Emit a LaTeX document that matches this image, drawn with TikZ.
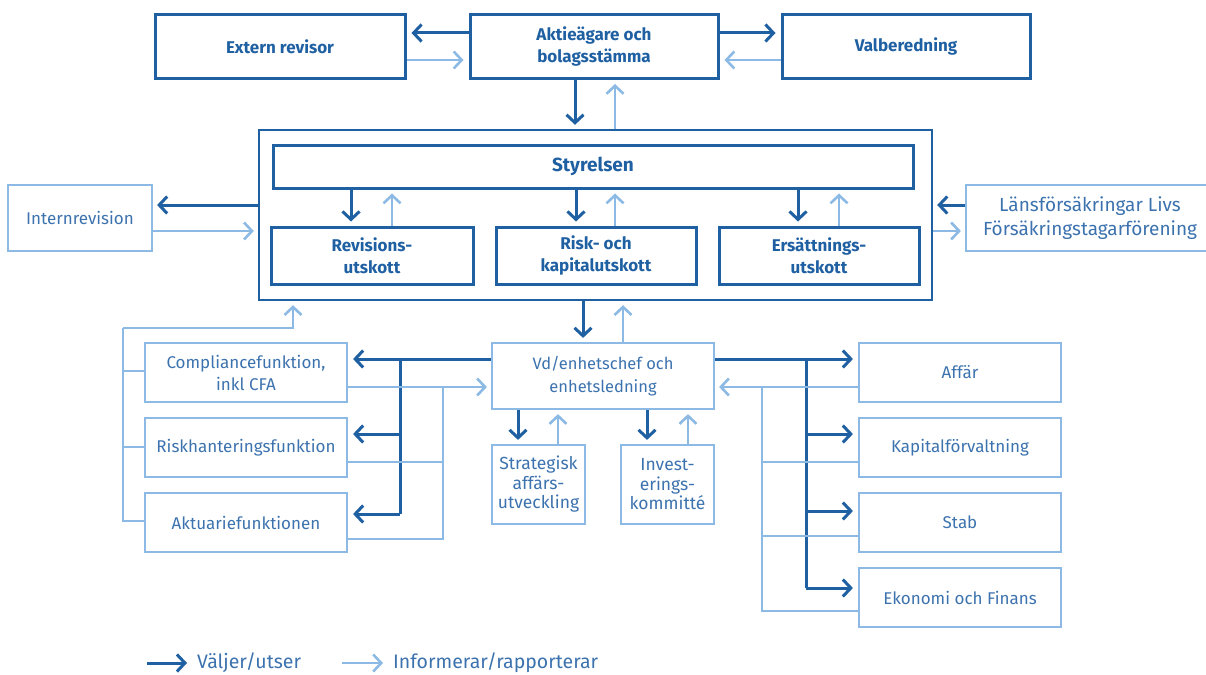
\documentclass[tikz,border=0pt]{standalone}
\usepackage{fontspec}
\setmainfont{Fira Sans}
\usetikzlibrary{arrows.meta}
\definecolor{dk}{RGB}{31,96,162}
\definecolor{lt}{RGB}{140,186,228}
\definecolor{tx}{RGB}{60,114,174}
\tikzset{
  dkbox/.style={draw=dk, line width=3pt, inner sep=0pt, align=center, text=dk, font=\fontsize{17}{22}\selectfont\bfseries},
  bigbox/.style={draw=dk, line width=2.4pt, inner sep=0pt},
  ltbox/.style={draw=lt, line width=2.2pt, inner sep=0pt, align=center, text=tx, font=\fontsize{17}{22}\selectfont},
  dkarr/.style={draw=dk, line width=3pt, -{Straight Barb[length=8pt,width=17pt,line width=3pt]}},
  ltarr/.style={draw=lt, line width=2.6pt, -{Straight Barb[length=8pt,width=17pt,line width=2.6pt]}},
  dkline/.style={draw=dk, line width=3pt},
  ltline/.style={draw=lt, line width=2.6pt},
  legtext/.style={anchor=west, inner sep=0pt, text=tx, font=\fontsize{19.5}{22}\selectfont}
}
\begin{document}
\begin{tikzpicture}[x=1pt,y=-1pt]
\useasboundingbox (0,0) rectangle (1206,674);
% top row
\node[dkbox, minimum width=250, minimum height=64] (ext) at (280,46.5) {Extern revisor};
\node[dkbox, minimum width=248, minimum height=64] (aktie) at (594,46.5) {Aktieägare och\\bolagsstämma};
\node[dkbox, minimum width=248, minimum height=64] (valb) at (906,46.5) {Valberedning};
% board
\node[bigbox, minimum width=673, minimum height=170] (big) at (595.5,215) {};
\node[dkbox, minimum width=640, minimum height=43, font=\fontsize{19}{22}\selectfont\bfseries] (styr) at (593,166.5) {Styrelsen};
\node[dkbox, minimum width=202, minimum height=57] (rev) at (372,255.5) {Revisions-\\utskott};
\node[dkbox, minimum width=200, minimum height=57] (risk) at (596,255.5) {Risk- och\\kapitalutskott};
\node[dkbox, minimum width=200, minimum height=57] (ers) at (819,255.5) {Ersättnings-\\utskott};
% sides
\node[ltbox, minimum width=144, minimum height=66] (intern) at (80,218) {Internrevision};
\node[ltbox, minimum width=248, minimum height=66, font=\fontsize{19}{24}\selectfont] (lans) at (1090,218) {Länsförsäkringar Livs\\Försäkringstagarförening};
% lower left
\node[ltbox, minimum width=202, minimum height=59] (comp) at (246,372.5) {Compliancefunktion,\\inkl CFA};
\node[ltbox, minimum width=202, minimum height=59] (riskh) at (246,447.5) {Riskhanteringsfunktion};
\node[ltbox, minimum width=202, minimum height=59] (akt) at (246,522.5) {Aktuariefunktionen};
% centre
\node[ltbox, minimum width=222, minimum height=66, font=\fontsize{16.5}{23}\selectfont] (vd) at (603,376) {Vd/enhetschef och\\enhetsledning};
\node[ltbox, minimum width=93, minimum height=79, font=\fontsize{17.5}{19.5}\selectfont] (strat) at (538.5,484.5) {Strategisk\\affärs-\\utveckling};
\node[ltbox, minimum width=93, minimum height=79, font=\fontsize{17.5}{19.5}\selectfont] (inv) at (667.5,484.5) {Invest-\\erings-\\kommitté};
% lower right
\node[ltbox, minimum width=202, minimum height=59] (affar) at (960,372.5) {Affär};
\node[ltbox, minimum width=202, minimum height=59] (kap) at (960,447.5) {Kapitalförvaltning};
\node[ltbox, minimum width=202, minimum height=59] (stab) at (960,522.5) {Stab};
\node[ltbox, minimum width=202, minimum height=59] (ekon) at (960,597.5) {Ekonomi och Finans};

% top connectors
\draw[dkarr, shorten >=5pt] (aktie.west |- 0,33) -- (ext.east |- 0,33);
\draw[ltarr, shorten >=5pt] (ext.east |- 0,60) -- (aktie.west |- 0,60);
\draw[dkarr, shorten >=5pt] (aktie.east |- 0,33) -- (valb.west |- 0,33);
\draw[ltarr, shorten >=5pt] (valb.west |- 0,60) -- (aktie.east |- 0,60);
\draw[dkarr, shorten >=4pt] (aktie.south -| 575,0) -- (big.north -| 575,0);
\draw[ltarr, shorten >=4pt] (big.north -| 615,0) -- (aktie.south -| 615,0);
% board to committees
\draw[dkarr, shorten >=4pt] (styr.south -| 351,0) -- (rev.north -| 351,0);
\draw[ltarr, shorten >=4pt] (rev.north -| 392,0) -- (styr.south -| 392,0);
\draw[dkarr, shorten >=4pt] (styr.south -| 576,0) -- (risk.north -| 576,0);
\draw[ltarr, shorten >=4pt] (risk.north -| 615,0) -- (styr.south -| 615,0);
\draw[dkarr, shorten >=4pt] (styr.south -| 798,0) -- (ers.north -| 798,0);
\draw[ltarr, shorten >=4pt] (ers.north -| 839,0) -- (styr.south -| 839,0);
% sides
\draw[dkarr, shorten >=4pt] (big.west |- 0,205) -- (intern.east |- 0,205);
\draw[ltarr, shorten >=4pt] (intern.east |- 0,231) -- (big.west |- 0,231);
\draw[dkarr, shorten >=4pt] (lans.west |- 0,205) -- (big.east |- 0,205);
\draw[ltarr, shorten >=4pt] (big.east |- 0,231) -- (lans.west |- 0,231);
% vd to board
\draw[dkarr, shorten >=4pt] (big.south -| 583,0) -- (vd.north -| 583,0);
\draw[ltarr, shorten >=4pt] (vd.north -| 623,0) -- (big.south -| 623,0);
% vd to committees
\draw[dkarr, shorten >=4pt] (vd.south -| 518,0) -- (strat.north -| 518,0);
\draw[ltarr, shorten >=4pt] (strat.north -| 558,0) -- (vd.south -| 558,0);
\draw[dkarr, shorten >=4pt] (vd.south -| 647,0) -- (inv.north -| 647,0);
\draw[ltarr, shorten >=4pt] (inv.north -| 688,0) -- (vd.south -| 688,0);

% left control functions report to board
\coordinate (lbus) at (123,328);
\draw[ltline] (akt.west |- 0,521) -| (lbus);
\draw[ltline] (riskh.west |- 0,447) -- (lbus |- 0,447);
\draw[ltline] (comp.west |- 0,371) -- (lbus |- 0,371);
\draw[ltarr, shorten >=4pt] (lbus) -- (293,328) -- (big.south -| 293,0);

% vd selects control functions
\coordinate (ldk) at (400,359);
\draw[dkarr, shorten >=5pt] (vd.west |- 0,359) -- (comp.east |- 0,359);
\draw[dkline] (ldk) -- (400,514);
\draw[dkarr, shorten >=5pt] (ldk |- 0,434) -- (riskh.east |- 0,434);
\draw[dkarr, shorten >=5pt] (ldk |- 0,514) -- (akt.east |- 0,514);
% control functions inform vd
\coordinate (llt) at (443,387);
\draw[ltarr, shorten >=4pt] (comp.east |- 0,387) -- (vd.west |- 0,387);
\draw[ltline] (riskh.east |- 0,462) -| (llt);
\draw[ltline] (akt.east |- 0,539) -| (llt);

% right side: vd selects
\coordinate (rdk) at (806,359);
\draw[dkarr, shorten >=5pt] (vd.east |- 0,359) -- (affar.west |- 0,359);
\draw[dkline] (rdk) -- (806,588);
\draw[dkarr, shorten >=5pt] (rdk |- 0,434) -- (kap.west |- 0,434);
\draw[dkarr, shorten >=5pt] (rdk |- 0,511) -- (stab.west |- 0,511);
\draw[dkarr, shorten >=5pt] (rdk |- 0,588) -- (ekon.west |- 0,588);
% right side: inform vd
\coordinate (rlt) at (762,387);
\draw[ltarr, shorten >=4pt] (affar.west |- 0,387) -- (vd.east |- 0,387);
\draw[ltline] (kap.west |- 0,462) -| (rlt);
\draw[ltline] (stab.west |- 0,536) -| (rlt);
\draw[ltline] (ekon.west |- 0,611) -| (rlt);

% legend
\node[legtext] (leg1) at (197,663) {Väljer/utser};
\node[legtext] (leg2) at (393,663) {Informerar/rapporterar};
\coordinate (l1s) at (147,663);
\coordinate (l2s) at (342,663);
\draw[dkarr, shorten >=10pt] (l1s) -- (leg1.west);
\draw[ltarr, shorten >=10pt] (l2s) -- (leg2.west);
\end{tikzpicture}
\end{document}
